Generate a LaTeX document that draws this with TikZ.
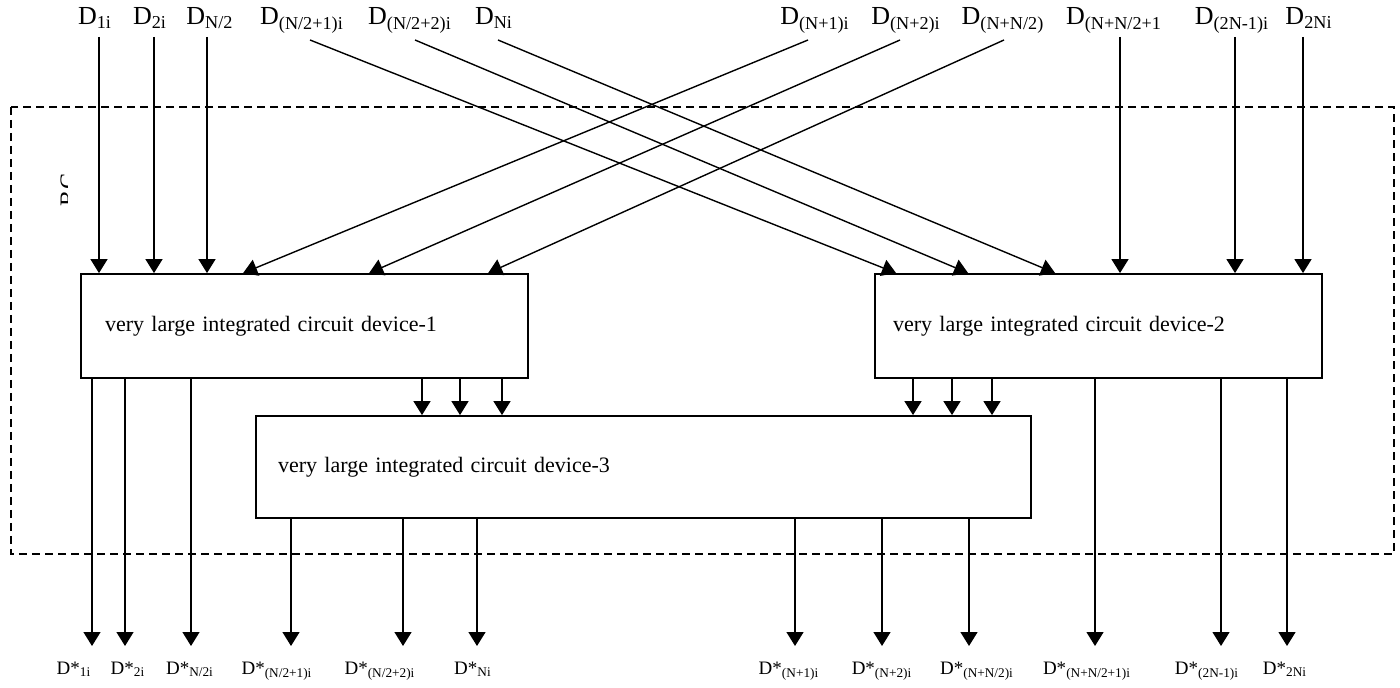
\documentclass[tikz,border=0pt]{standalone}
\usepackage{fontspec}
\setmainfont{Liberation Serif}
\usetikzlibrary{arrows.meta,calc}

\begin{document}
\begin{tikzpicture}[x=0.5pt,y=-0.5pt,
  dev/.style={draw, line width=0.9pt, minimum height=52pt, inner ysep=0pt,
    align=left, font=\fontsize{11}{13}\selectfont},
  inlbl/.style={anchor=base, inner sep=0pt, font=\fontsize{13}{15}\selectfont},
  outlbl/.style={anchor=base, inner sep=0pt, font=\fontsize{9.5}{11}\selectfont},
  arr/.style={-{Triangle[length=7pt,width=8.5pt]}, line width=0.7pt},
  frame/.style={line width=0.9pt, dash pattern=on 4pt off 2.5pt}
]
  \useasboundingbox (0,0) rectangle (1400,688);
  \draw[frame] (11,107) rectangle (1394,554);
  \begin{scope}
    \clip (0,100) rectangle (67,260);
    \node[rotate=90, anchor=north, inner sep=0pt,
      font=\fontsize{12}{14}\selectfont] (bc) at (60,190) {BC};
  \end{scope}

  \node[dev, text width=199.5pt, inner xsep=12pt] (dev1) at (304.5,326)
    {very large integrated circuit device-1};
  \node[dev, text width=205.5pt, inner xsep=9pt] (dev2) at (1098.5,326)
    {very large integrated circuit device-2};
  \node[dev, text width=365.5pt, inner xsep=11pt, minimum height=51pt] (dev3) at (643.5,467)
    {very large integrated circuit device-3};

  \node[inlbl] (d1) at (95,25) {D\textsubscript{1i}};
  \node[inlbl] (d2) at (150,25) {D\textsubscript{2i}};
  \node[inlbl] (d3) at (210,25) {D\textsubscript{N/2}};
  \node[inlbl] (d4) at (302,25) {D\textsubscript{(N/2+1)i}};
  \node[inlbl] (d5) at (410,25) {D\textsubscript{(N/2+2)i}};
  \node[inlbl] (d6) at (494,25) {D\textsubscript{Ni}};
  \node[inlbl] (d7) at (815,25) {D\textsubscript{(N+1)i}};
  \node[inlbl] (d8) at (906,25) {D\textsubscript{(N+2)i}};
  \node[inlbl] (d9) at (1003,25) {D\textsubscript{(N+N/2)}};
  \node[inlbl] (d10) at (1114,25) {D\textsubscript{(N+N/2+1}};
  \node[inlbl] (d11) at (1232,25) {D\textsubscript{(2N-1)i}};
  \node[inlbl] (d12) at (1309,25) {D\textsubscript{2Ni}};

  \coordinate (s1) at (99,37);
  \coordinate (s2) at (154,37);
  \coordinate (s3) at (207,37);
  \coordinate (s4) at (310,40);
  \coordinate (s5) at (415,40);
  \coordinate (s6) at (498,40);
  \coordinate (s7) at (808,40);
  \coordinate (s8) at (900,40);
  \coordinate (s9) at (1004,40);
  \coordinate (s10) at (1120,37);
  \coordinate (s11) at (1235,37);
  \coordinate (s12) at (1303,37);

  \foreach \s in {s1,s2,s3} \draw[arr] (\s) -- (\s |- dev1.north);
  \foreach \s in {s10,s11,s12} \draw[arr] (\s) -- (\s |- dev2.north);
  \draw[arr] (s4) -- ($(dev2.north west)+(22,0)$);
  \draw[arr] (s5) -- ($(dev2.north west)+(94,0)$);
  \draw[arr] (s6) -- ($(dev2.north west)+(181,0)$);
  \draw[arr] (s7) -- ($(dev1.north west)+(163,0)$);
  \draw[arr] (s8) -- ($(dev1.north west)+(289,0)$);
  \draw[arr] (s9) -- ($(dev1.north west)+(408,0)$);

  \foreach \x in {422,460,502} \draw[arr] (dev1.south -| \x,0) -- (dev3.north -| \x,0);
  \foreach \x in {913,952,992} \draw[arr] (dev2.south -| \x,0) -- (dev3.north -| \x,0);

  \coordinate (t1) at (92,646);
  \coordinate (t2) at (125,646);
  \coordinate (t3) at (191,646);
  \coordinate (t4) at (291,646);
  \coordinate (t5) at (403,646);
  \coordinate (t6) at (477,646);
  \coordinate (t7) at (795,646);
  \coordinate (t8) at (882,646);
  \coordinate (t9) at (969,646);
  \coordinate (t10) at (1095,646);
  \coordinate (t11) at (1221,646);
  \coordinate (t12) at (1287,646);

  \foreach \t in {t1,t2,t3} \draw[arr] (\t |- dev1.south) -- (\t);
  \foreach \t in {t4,t5,t6,t7,t8,t9} \draw[arr] (\t |- dev3.south) -- (\t);
  \foreach \t in {t10,t11,t12} \draw[arr] (\t |- dev2.south) -- (\t);

  \node[outlbl] (q1) at (74,674) {D*\textsubscript{1i}};
  \node[outlbl] (q2) at (128,674) {D*\textsubscript{2i}};
  \node[outlbl] (q3) at (190,674) {D*\textsubscript{N/2i}};
  \node[outlbl] (q4) at (277,674) {D*\textsubscript{(N/2+1)i}};
  \node[outlbl] (q5) at (380,674) {D*\textsubscript{(N/2+2)i}};
  \node[outlbl] (q6) at (473,674) {D*\textsubscript{Ni}};
  \node[outlbl] (q7) at (789,674) {D*\textsubscript{(N+1)i}};
  \node[outlbl] (q8) at (882,674) {D*\textsubscript{(N+2)i}};
  \node[outlbl] (q9) at (977,674) {D*\textsubscript{(N+N/2)i}};
  \node[outlbl] (q10) at (1087,674) {D*\textsubscript{(N+N/2+1)i}};
  \node[outlbl] (q11) at (1207,674) {D*\textsubscript{(2N-1)i}};
  \node[outlbl] (q12) at (1285,674) {D*\textsubscript{2Ni}};
\end{tikzpicture}
\end{document}
